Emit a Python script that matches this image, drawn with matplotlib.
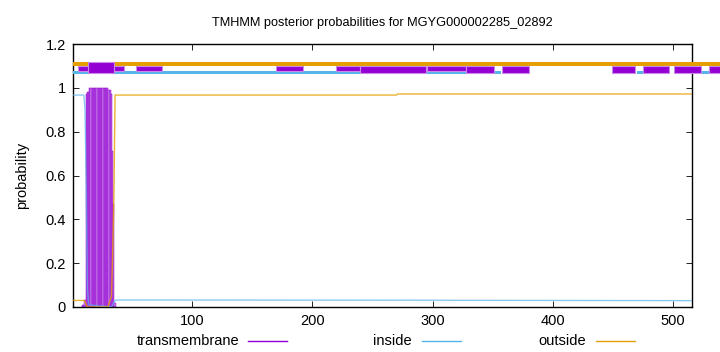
import matplotlib
matplotlib.use("Agg")
import matplotlib.pyplot as plt
from matplotlib.patches import Rectangle
from matplotlib.lines import Line2D

plt.rcParams['font.family'] = ['Liberation Sans', 'DejaVu Sans']

# ---- data ----
title = "TMHMM posterior probabilities for MGYG000002285_02892"
seq_len = 516

inside_x = [1, 10, 11, 12, 13, 14, 33, 34, 35, 36, 37, 270, 516]
inside_y = [0.967, 0.967, 0.9, 0.55, 0.08, 0.01, 0.0, 0.01, 0.02, 0.03, 0.032, 0.031, 0.029]

outside_x = [1, 10, 11, 12, 13, 30, 33, 34, 35, 36, 270, 271, 516]
outside_y = [0.03, 0.03, 0.025, 0.01, 0.0, 0.0, 0.05, 0.25, 0.5, 0.967, 0.967, 0.972, 0.972]

tm_pos = list(range(9, 37))
tm_vals = [0.01, 0.01, 0.03, 0.97, 0.98, 0.98, 1.0, 1.0, 1.0, 1.0, 1.0, 1.0, 1.0, 1.0,
           1.0, 1.0, 1.0, 1.0, 1.0, 1.0, 1.0, 1.0, 0.99, 0.99, 0.97, 0.71, 0.47, 0.02]

# topology bars on top (start, end)
outside_band = [(1, 540)]
inside_band = [(1, 240), (295, 328), (352, 357), (470, 475), (524, 530)]
tm_boxes_a = [(5.2, 43.2), (53.2, 75), (170, 192), (219.4, 240), (295, 328)]
tm_boxes_b = [(240, 294.8), (328, 351), (358, 380), (449, 468), (475, 497), (501, 523), (530, 540)]
tm_boxes_c = [(13.5, 35.2)]

xticks = [100, 200, 300, 400, 500]
yticks = [0, 0.2, 0.4, 0.6, 0.8, 1.0, 1.2]
ytick_labels = ["0", "0.2", "0.4", "0.6", "0.8", "1", "1.2"]

C_TM = "#9400D3"
C_IN = "#56B4E9"
C_OUT = "#E69F00"
FS = 10.5

fig = plt.figure(figsize=(7.2, 3.52), dpi=100)
ax = fig.add_axes([73 / 720, 45 / 352, (692.3 - 73) / 720, (307 - 44) / 352])

# posterior curves
ax.bar(tm_pos, tm_vals, width=1.0, color="#c682e8", edgecolor=C_TM, linewidth=0.35, zorder=2)
ax.plot(inside_x, inside_y, color=C_IN, lw=1.0, alpha=0.7, zorder=3)
ax.plot(outside_x, outside_y, color=C_OUT, lw=1.0, alpha=0.8, zorder=3)

# topology bars
for s, e in outside_band:
    ax.add_patch(Rectangle((s, 1.1015), e - s, 0.0182, facecolor=C_OUT, edgecolor="none",
                           clip_on=False, zorder=4))
for s, e in inside_band:
    ax.add_patch(Rectangle((s, 1.0645), e - s, 0.0135, facecolor=C_IN, edgecolor="none",
                           clip_on=False, zorder=4))
for s, e in tm_boxes_a:
    ax.add_patch(Rectangle((s, 1.078), e - s, 0.021, facecolor=C_TM, edgecolor="#c88ae8",
                           lw=0.8, clip_on=False, zorder=5))
for s, e in tm_boxes_b:
    ax.add_patch(Rectangle((s, 1.066), e - s, 0.033, facecolor=C_TM, edgecolor="#c88ae8",
                           lw=0.8, clip_on=False, zorder=5))
for s, e in tm_boxes_c:
    ax.add_patch(Rectangle((s, 1.066), e - s, 0.050, facecolor=C_TM, edgecolor="#c88ae8",
                           lw=0.8, clip_on=False, zorder=6))

ax.set_xlim(1, seq_len)
ax.set_ylim(0, 1.2)
ax.set_xticks(xticks)
ax.set_yticks(yticks)
ax.set_yticklabels(ytick_labels)
ax.tick_params(direction="in", top=True, right=True, length=4, width=0.6,
               labelsize=FS, pad=5, colors="black")
for sp in ax.spines.values():
    sp.set_linewidth(1.0)
ax.set_ylabel("probability", fontsize=FS, labelpad=12)
ax.set_title(title, fontsize=9.2, pad=13)

# legend (gnuplot style, bottom row)
legend_items = [("transmembrane", C_TM, 239, 248, 287),
                ("inside", C_IN, 412, 422, 461),
                ("outside", C_OUT, 586, 596, 635)]
ly = 1 - 341 / 352
for label, col, tx, x0, x1 in legend_items:
    fig.text(tx / 720, ly, label, ha="right", va="center", fontsize=FS)
    fig.add_artist(Line2D([x0 / 720, x1 / 720], [ly, ly], color=col, lw=1.0,
                          transform=fig.transFigure))

fig.savefig("out.png", dpi=100)
